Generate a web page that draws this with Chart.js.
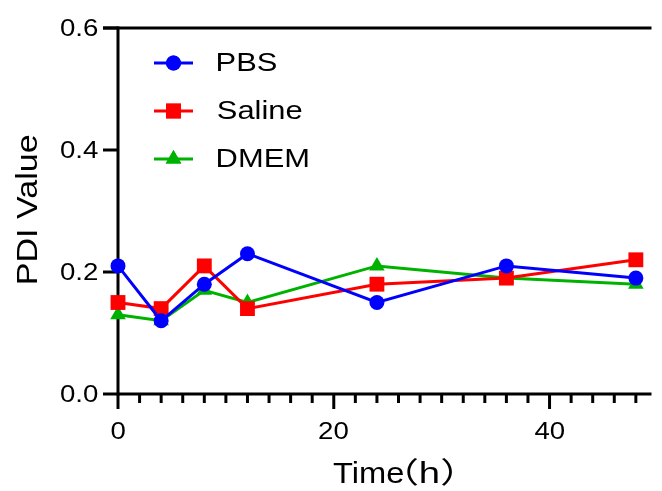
<!DOCTYPE html>
<html><head><meta charset="utf-8">
<script src="https://cdn.jsdelivr.net/npm/chart.js@4/dist/chart.umd.min.js"></script>
<style>html,body{margin:0;padding:0;background:#fff}#wrap{width:662px;height:491px}</style>
</head><body><div id="wrap"><canvas id="c" width="662" height="491"></canvas></div>
<script>
const times = [0, 4, 8, 12, 24, 36, 48];
const pbs = [0.21, 0.12, 0.18, 0.23, 0.15, 0.21, 0.19];
const saline = [0.15, 0.14, 0.21, 0.14, 0.18, 0.19, 0.22];
const dmem = [0.13, 0.12, 0.17, 0.15, 0.21, 0.19, 0.18];
const seriesNames = ['PBS', 'Saline', 'DMEM'];
const yTicks = [0.0, 0.2, 0.4, 0.6];
const xTicks = [0, 20, 40];
const xTitle = 'Time（h）';
const yTitle = 'PDI Value';

const FONT = '"Liberation Sans", Arial, "Noto Sans CJK SC", sans-serif';
const colors = ['rgb(0,0,255)', 'rgb(255,0,0)', 'rgb(0,178,0)'];
const shapes = ['circle', 'rect', 'triangle'];
const radii = [7.5, 10.5, 9];
const vals = [pbs, saline, dmem];

const datasets = seriesNames.map((n, i) => ({
  label: n,
  data: times.map((t, j) => ({x: t, y: vals[i][j]})),
  borderColor: colors[i],
  backgroundColor: colors[i],
  borderWidth: 3,
  pointStyle: shapes[i],
  pointRadius: radii[i],
  pointBorderWidth: 0,
  pointBackgroundColor: colors[i],
  tension: 0,
  clip: false,
  order: i
}));

function ink(ctx, text, size) {
  ctx.font = size + 'px ' + FONT;
  const m = ctx.measureText(text);
  return {l: -m.actualBoundingBoxLeft, r: m.actualBoundingBoxRight, w: m.actualBoundingBoxRight + m.actualBoundingBoxLeft};
}
// draw text so its ink starts at inkLeft (stretched by st), baseline y
function drawInk(ctx, text, inkLeft, y, size, st) {
  ctx.save();
  const k = ink(ctx, text, size);
  ctx.translate(inkLeft - k.l * st, y);
  ctx.scale(st, 1);
  ctx.fillStyle = '#000';
  ctx.textBaseline = 'alphabetic';
  ctx.textAlign = 'left';
  ctx.fillText(text, 0, 0);
  ctx.restore();
}

const axesPlugin = {
  id: 'axesDraw',
  beforeDatasetsDraw(chart) {
    const ctx = chart.ctx;
    const xs = chart.scales.x, ys = chart.scales.y;
    const a = chart.chartArea;
    const yTop = ys.getPixelForValue(yTicks[yTicks.length - 1]);
    const y0 = ys.getPixelForValue(0);
    ctx.save();
    ctx.strokeStyle = '#000';
    ctx.lineWidth = 3;
    ctx.lineCap = 'butt';
    ctx.beginPath();
    ctx.moveTo(a.left, yTop - 1.5);
    ctx.lineTo(a.left, y0 + 1.5);
    ctx.stroke();
    ctx.beginPath();
    ctx.moveTo(a.left, y0);
    ctx.lineTo(a.right, y0);
    ctx.stroke();
    ctx.beginPath();
    ctx.moveTo(a.left - 15, yTop);
    ctx.lineTo(a.right, yTop);
    ctx.stroke();
    const TS = 24;
    const tst = 38 / ink(ctx, '0.6', TS).w;
    yTicks.forEach(v => {
      const py = ys.getPixelForValue(v);
      ctx.beginPath();
      ctx.moveTo(a.left - 15, py);
      ctx.lineTo(a.left, py);
      ctx.stroke();
      const t = v.toFixed(1);
      const k = ink(ctx, t, TS);
      drawInk(ctx, t, 98 - k.w * tst, py + 8, TS, tst);
    });
    for (let t = 0; t <= xs.max; t += 2) {
      const px = xs.getPixelForValue(t);
      const major = t % 20 === 0;
      ctx.beginPath();
      ctx.moveTo(px, y0);
      ctx.lineTo(px, y0 + (major ? 15 : 9));
      ctx.stroke();
    }
    xTicks.forEach(v => {
      const t = String(v);
      const k = ink(ctx, t, TS);
      drawInk(ctx, t, xs.getPixelForValue(v) - k.w * tst / 2, y0 + 45, TS, tst);
    });
    // x title
    const parts = xTitle.split('（');
    const p2 = '（' + parts[1];
    const XS = 29;
    const s1 = 70 / ink(ctx, parts[0], XS).w;
    const s2 = 45 / ink(ctx, p2, XS).w;
    drawInk(ctx, parts[0], 333, 483, XS, s1);
    drawInk(ctx, p2, 407, 483, XS, s2);
    // y title
    const YS = 30;
    const ys2 = 148 / ink(ctx, yTitle, YS).w;
    ctx.save();
    ctx.translate(37, 283);
    ctx.rotate(-Math.PI / 2);
    drawInk(ctx, yTitle, 0, 0, YS, ys2);
    ctx.restore();
    ctx.restore();
  },
  afterDraw(chart) {
    const ctx = chart.ctx;
    ctx.save();
    const x0 = 154, x1 = 193, tx = 218;
    const ys0 = 63, dy = 48;
    const LS = 26;
    const lst = 59 / ink(ctx, 'PBS', LS).w;
    chart.data.datasets.forEach((ds, i) => {
      const y = ys0 + i * dy;
      ctx.strokeStyle = ds.borderColor;
      ctx.lineWidth = 3;
      ctx.beginPath();
      ctx.moveTo(x0, y);
      ctx.lineTo(x1, y);
      ctx.stroke();
      ctx.fillStyle = ds.backgroundColor;
      Chart.helpers.drawPoint(ctx, {pointStyle: ds.pointStyle, radius: ds.pointRadius, borderWidth: 0, rotation: 0}, (x0 + x1) / 2, y);
      ctx.fill();
      drawInk(ctx, ds.label, tx, y + 8, LS, lst);
    });
    ctx.restore();
  }
};

new Chart(document.getElementById('c'), {
  type: 'line',
  data: {datasets},
  plugins: [axesPlugin],
  options: {
    responsive: false,
    animation: false,
    devicePixelRatio: 1,
    layout: {padding: {top: 28, right: 0, left: 0, bottom: 0}},
    plugins: {legend: {display: false}, tooltip: {enabled: false}},
    scales: {
      x: {
        type: 'linear', min: 0, max: 49.45,
        grid: {display: false, drawTicks: false},
        border: {display: false},
        ticks: {display: false},
        afterFit(s) { s.height = 97; }
      },
      y: {
        min: 0, max: 0.6,
        grid: {display: false, drawTicks: false},
        border: {display: false},
        ticks: {display: false},
        afterFit(s) { s.width = 118; }
      }
    }
  }
});
</script></body></html>
